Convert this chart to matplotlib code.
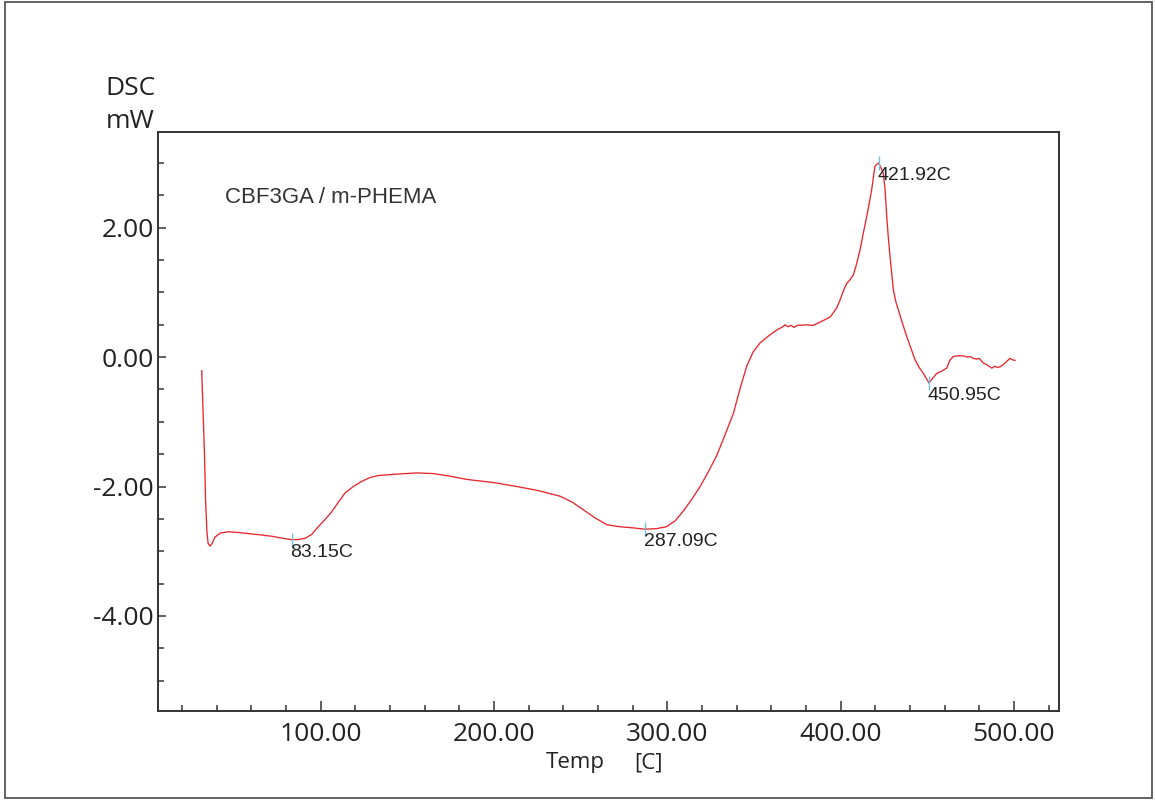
import matplotlib
matplotlib.use("Agg")
import matplotlib.pyplot as plt
from matplotlib.patches import Rectangle
from matplotlib.ticker import MultipleLocator, FormatStrFormatter

# ---- data ----
temp = [31.3, 32.3, 32.9, 33.5, 34.3, 35.0, 36.1, 37.3, 39.0, 42.0, 46.7, 52.0,
        59.2, 66.0, 72.0, 78.0, 83.15, 87.0, 91.0, 94.8, 98.6, 102.5, 106.3,
        110.2, 114.0, 118.8, 123.7, 128.5, 133.3, 142.9, 155.4, 165.0, 174.6,
        184.2, 200.0, 213.1, 225.0, 238.1, 245.0, 251.5, 258.0, 265.0, 272.0,
        280.4, 287.09, 294.0, 299.6, 304.5, 309.2, 314.0, 318.9, 323.5, 328.5,
        333.0, 338.1, 342.0, 345.8, 349.5, 353.5, 358.0, 363.1, 366.0, 368.0,
        369.5, 371.5, 373.0, 375.0, 380.0, 384.0, 388.0, 391.0, 394.0, 397.7,
        399.6, 401.5, 403.5, 405.5, 407.3, 409.3, 411.2, 413.1, 415.0, 416.5,
        417.9, 419.0, 419.8, 420.8, 421.92, 423.2, 424.6, 425.6, 426.6, 427.5,
        428.5, 429.5, 430.4, 431.8, 433.3, 435.7, 438.1, 440.5, 442.9, 445.3,
        447.7, 450.95, 453.0, 455.5, 458.0, 461.2, 463.0, 465.0, 468.0, 470.8,
        473.0, 474.5, 476.6, 478.5, 480.0, 482.3, 484.5, 487.2, 489.0, 490.5,
        492.0, 494.5, 496.0, 497.7, 499.0, 500.6]
dsc = [-0.21, -1.00, -1.50, -2.20, -2.70, -2.88, -2.92, -2.88, -2.78, -2.72, -2.70, -2.71,
       -2.73, -2.75, -2.77, -2.80, -2.82, -2.82, -2.80, -2.74, -2.62, -2.51, -2.39,
       -2.24, -2.10, -2.00, -1.92, -1.86, -1.83, -1.81, -1.79, -1.80, -1.84,
       -1.89, -1.94, -2.00, -2.06, -2.15, -2.24, -2.36, -2.48, -2.59, -2.62,
       -2.64, -2.66, -2.65, -2.62, -2.53, -2.38, -2.20, -2.00, -1.78, -1.52,
       -1.22, -0.87, -0.48, -0.14, 0.08, 0.22, 0.32, 0.42, 0.46, 0.50,
       0.47, 0.49, 0.46, 0.49, 0.50, 0.49, 0.54, 0.58, 0.62, 0.76,
       0.88, 1.02, 1.14, 1.20, 1.27, 1.45, 1.66, 1.92, 2.17, 2.38,
       2.59, 2.80, 2.95, 2.98, 3.00, 2.93, 2.84, 2.60, 2.17, 1.85,
       1.55, 1.28, 1.04, 0.86, 0.73, 0.52, 0.32, 0.14, -0.04, -0.16,
       -0.25, -0.40, -0.33, -0.25, -0.22, -0.17, -0.05, 0.01, 0.02, 0.02,
       0.00, 0.01, -0.02, -0.03, -0.02, -0.09, -0.12, -0.17, -0.14, -0.16,
       -0.15, -0.10, -0.06, -0.02, -0.04, -0.05]

peak_temps = [83.15, 287.09, 421.92, 450.95]
peak_vals = [-2.82, -2.66, 3.00, -0.40]
peak_labels = ["83.15C", "287.09C", "421.92C", "450.95C"]

sample_label = "CBF3GA / m-PHEMA"
x_ticks = [100, 200, 300, 400, 500]
y_ticks = [-4, -2, 0, 2]

# ---- figure ----
W, H = 1155, 800
fig = plt.figure(figsize=(W / 100, H / 100), dpi=100)
fig.patch.set_facecolor("white")

# outer frame
fig.patches.append(Rectangle((5 / W, 2 / H), 1147 / W, 796 / H, transform=fig.transFigure,
                             fill=False, edgecolor="#555555", linewidth=1.3))

left, right, top, bottom = 157.7, 1058.5, 132, 711
ax = fig.add_axes([left / W, 1 - bottom / H, (right - left) / W, (bottom - top) / H])

ax.plot(temp, dsc, color="#e8262e", linewidth=0.95)

ax.set_xlim(5.9, 525.7)
ax.set_ylim(-5.47, 3.48)

ax.set_xticks(x_ticks)
ax.set_yticks(y_ticks)
ax.xaxis.set_minor_locator(MultipleLocator(20))
ax.yaxis.set_minor_locator(MultipleLocator(0.5))
ax.xaxis.set_major_formatter(FormatStrFormatter("%.2f"))
ax.yaxis.set_major_formatter(FormatStrFormatter("%.2f"))

ax.tick_params(axis="both", which="both", direction="in", color="#333333", width=1.1)
ax.tick_params(axis="x", which="major", length=7, pad=8)
ax.tick_params(axis="x", which="minor", length=4)
ax.tick_params(axis="y", which="major", length=6, pad=3)
ax.tick_params(axis="y", which="minor", length=4)
ax.tick_params(top=False, right=False, which="both")
for lab in ax.get_xticklabels() + ax.get_yticklabels():
    lab.set_fontfamily(["Open Sans", "DejaVu Sans"])
    lab.set_fontsize(19)
    lab.set_color("#222222")

for s in ax.spines.values():
    s.set_color("#333333")
    s.set_linewidth(1.4)

# peak markers and labels
ax.plot(peak_temps, peak_vals, linestyle="none", marker="|", markersize=10,
        markeredgewidth=1.0, color="#6ec3e0")
for t, v, lab in zip(peak_temps, peak_vals, peak_labels):
    ax.annotate(lab, xy=(t, v), xytext=(-1, -3), textcoords="offset points",
                ha="left", va="top", fontsize=14, color="#222222",
                family=["Liberation Sans", "DejaVu Sans"])

fig.text(225 / W, 1 - 203 / H, sample_label, ha="left", va="baseline", fontsize=16,
         color="#333333", family=["Liberation Sans", "DejaVu Sans"])

# axis titles
fig.text(131 / W, 1 - 95 / H, "DSC", ha="center", va="baseline", fontsize=19,
         color="#222222", family=["Open Sans", "DejaVu Sans"])
fig.text(130 / W, 1 - 128 / H, "mW", ha="center", va="baseline", fontsize=19,
         color="#222222", family=["Open Sans", "DejaVu Sans"])
fig.text(546 / W, 1 - 768 / H, "Temp", ha="left", va="baseline", fontsize=16,
         color="#222222", family=["Open Sans", "DejaVu Sans"])
fig.text(634 / W, 1 - 768 / H, "[C]", ha="left", va="baseline", fontsize=16,
         color="#222222", family=["Open Sans", "DejaVu Sans"])

fig.savefig("out.png", dpi=100, facecolor="white")
